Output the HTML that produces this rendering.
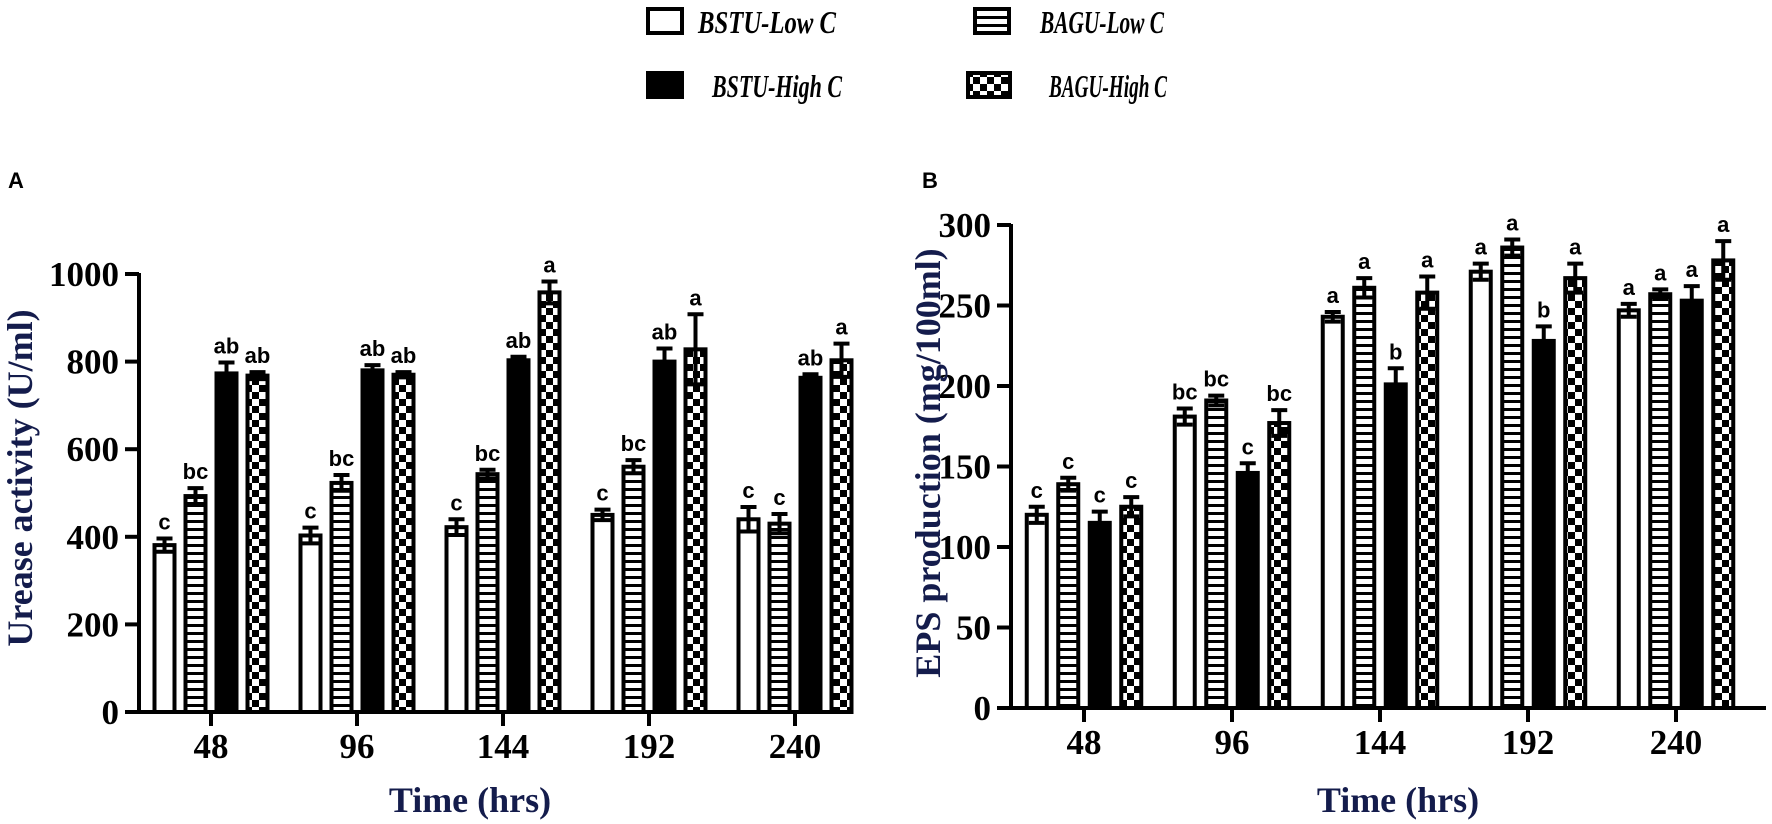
<!DOCTYPE html>
<html><head><meta charset="utf-8">
<style>
html,body{margin:0;padding:0;background:#fff;}
svg{display:block;}
.tick{font-family:"Liberation Serif",serif;font-weight:bold;font-size:35px;fill:#000;}
.ttl{font-family:"Liberation Serif",serif;font-weight:bold;font-size:36px;fill:#141c4c;}
.sig{font-family:"Liberation Sans",sans-serif;font-weight:bold;font-size:22px;fill:#000;}
.leg{font-family:"Liberation Serif",serif;font-weight:bold;font-style:italic;font-size:32px;fill:#000;}
.pl{font-family:"Liberation Sans",sans-serif;font-weight:bold;font-size:22px;fill:#000;}
</style></head>
<body>
<svg id="chart" width="1772" height="824" viewBox="0 0 1772 824" xmlns="http://www.w3.org/2000/svg">
<defs>
<pattern id="stripes" patternUnits="userSpaceOnUse" width="8" height="8"><rect width="8" height="8" fill="#fff"/><rect y="0" width="8" height="3" fill="#000"/></pattern>
<pattern id="checker" patternUnits="userSpaceOnUse" width="14" height="14"><rect width="14" height="14" fill="#fff"/><rect x="0" y="0" width="7" height="7" fill="#000"/><rect x="7" y="7" width="7" height="7" fill="#000"/></pattern>
</defs>
<g>
<rect x="648" y="9" width="34" height="24" fill="#fff" stroke="#000" stroke-width="4"/>
<text class="leg" x="698" y="33" textLength="138" lengthAdjust="spacingAndGlyphs">BSTU-Low C</text>
<rect x="975" y="9" width="34" height="24" fill="url(#stripes)" stroke="#000" stroke-width="4"/>
<text class="leg" x="1040" y="33" textLength="124" lengthAdjust="spacingAndGlyphs">BAGU-Low C</text>
<rect x="648" y="73" width="34" height="24" fill="#000" stroke="#000" stroke-width="4"/>
<text class="leg" x="712" y="97" textLength="130" lengthAdjust="spacingAndGlyphs">BSTU-High C</text>
<rect x="968" y="73" width="42" height="24" fill="url(#checker)" stroke="#000" stroke-width="4"/>
<text class="leg" x="1049" y="97" textLength="118" lengthAdjust="spacingAndGlyphs">BAGU-High C</text>
</g>
<text class="pl" x="8" y="188">A</text>
<text class="pl" x="922" y="188">B</text>
<g id="panelA"></g>
<g id="panelB"></g>
</svg>
<script>
const categories = ["48","96","144","192","240"];
const seriesNames = ["BSTU-Low C","BAGU-Low C","BSTU-High C","BAGU-High C"];
const ureaseVals = [[381,403,422,450,440],[493,523,543,560,430],[773,780,803,800,763],[768,770,958,828,803]];
const ureaseErr = [[15,18,18,12,28],[18,18,10,15,22],[25,12,8,30,8],[8,6,25,80,38]];
const ureaseSig = [["c","c","c","c","c"],["bc","bc","bc","bc","c"],["ab","ab","ab","ab","ab"],["ab","ab","a","a","a"]];
const ureaseTicks = [0,200,400,600,800,1000];
const epsVals = [[120,181,243,271,247],[139,191,261,286,257],[115,146,201,228,253],[125,177,258,267,278]];
const epsErr = [[5,5,3,5,4],[4,3,6,5,3],[7,6,10,9,9],[6,8,10,9,12]];
const epsSig = [["c","bc","a","a","a"],["c","bc","a","a","a"],["c","c","b","b","a"],["c","bc","a","a","a"]];
const epsTicks = [0,50,100,150,200,250,300];
const fills = ["#fff","url(#stripes)","#000","url(#checker)"];
const NS="http://www.w3.org/2000/svg";
function mk(parent,tag,attrs){const e=document.createElementNS(NS,tag);for(const k in attrs)e.setAttribute(k,attrs[k]);parent.appendChild(e);return e;}

function drawPanel(cfg){
  const g=document.getElementById(cfg.id);
  const y=v=>cfg.y0-(v-0)*(cfg.y0-cfg.yTop)/cfg.ymax;
  const x=i=>cfg.x0+i*cfg.step;
  let ax=mk(g,'line',{x1:cfg.ax,y1:y(cfg.ymax)-1,x2:cfg.ax,y2:cfg.y0+2,stroke:'#000','stroke-width':4});
  
  
  let xa=mk(g,'line',{x1:cfg.ax-14,y1:cfg.y0,x2:cfg.axEnd,y2:cfg.y0,stroke:'#000','stroke-width':4});
  
  
  cfg.ticks.forEach(t=>{
    if(t!==0){const l=mk(g,'line',{x1:cfg.ax-14,y1:y(t),x2:cfg.ax,y2:y(t),stroke:'#000','stroke-width':4});
    
    }
    const tx=mk(g,'text',{x:cfg.ax-20,y:y(t)+12,'text-anchor':'end',class:'tick'});
    
    
    tx.textContent=t;
  });
  categories.forEach((c,i)=>{
    const l=mk(g,'line',{x1:x(i),y1:cfg.y0,x2:x(i),y2:cfg.y0+14,stroke:'#000','stroke-width':4});
    
    
    const tx=mk(g,'text',{x:x(i),y:cfg.y0+46,'text-anchor':'middle',class:'tick'});
    
    
    tx.textContent=c;
  });
  const offs=[-1.5,-0.5,0.5,1.5];
  cfg.vals.forEach((ser,s)=>{
    ser.forEach((v,i)=>{
      const cx=x(i)+offs[s]*cfg.pitch;
      const top=y(v);
      const r=mk(g,'rect',{x:cx-cfg.bw/2,y:top,width:cfg.bw,height:cfg.y0-top,fill:fills[s],stroke:'#000','stroke-width':4});
      
      
      const e=cfg.err[s][i];
      const eb=mk(g,'path',{d:`M${cx},${y(v-e)}V${y(v+e)}M${cx-8},${y(v+e)}H${cx+8}M${cx-8},${y(v-e)}H${cx+8}`,stroke:'#000','stroke-width':4,fill:'none'});
      
      
      const t=mk(g,'text',{x:cx,y:y(v+e)-9,'text-anchor':'middle',class:'sig'});
      
      
      t.textContent=cfg.sig[s][i];
    });
  });
  const xt=mk(g,'text',{x:cfg.xtx,y:812,'text-anchor':'middle',class:'ttl'});
  
  
  xt.textContent='Time (hrs)';
  const yt=mk(g,'text',{x:0,y:0,'text-anchor':'middle',class:'ttl',transform:`translate(${cfg.ytx},${cfg.yty}) rotate(-90)`});
  
  
  yt.textContent=cfg.ytitle;
}
drawPanel({id:'panelA',ax:139,axEnd:853,y0:712,yTop:274,ymax:1000,x0:211,step:146,pitch:31,bw:20,ticks:ureaseTicks,vals:ureaseVals,err:ureaseErr,sig:ureaseSig,ytitle:'Urease activity (U/ml)',ytx:32,yty:478,xtx:470});
drawPanel({id:'panelB',ax:1011,axEnd:1766,y0:708,yTop:225,ymax:300,x0:1084,step:148,pitch:31.5,bw:20,ticks:epsTicks,vals:epsVals,err:epsErr,sig:epsSig,ytitle:'EPS production (mg/100ml)',ytx:940,yty:463,xtx:1398});
</script>
</body></html>
